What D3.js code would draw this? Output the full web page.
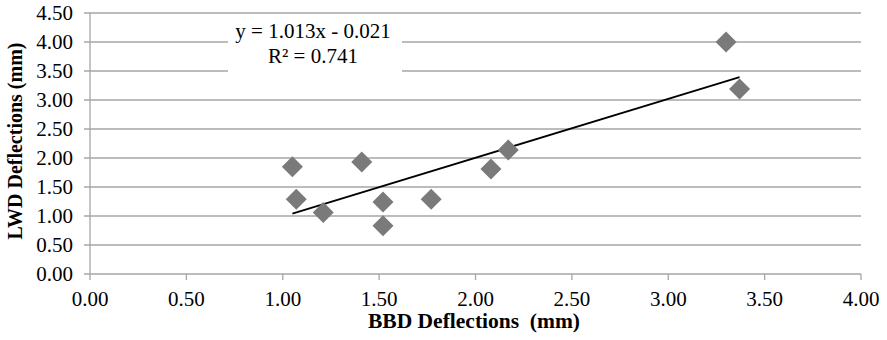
<!DOCTYPE html>
<html>
<head>
<meta charset="utf-8">
<script src="https://cdn.jsdelivr.net/npm/d3@7"></script>
<style>
  body { margin: 0; background: #fff; }
  svg text { font-family: "Liberation Serif", "Times New Roman", serif; fill: #000; }
</style>
</head>
<body>
<svg id="chart" width="887" height="340"></svg>
<script>
// values
const bbd = [1.05, 1.07, 1.21, 1.41, 1.52, 1.52, 1.77, 2.08, 2.17, 3.30, 3.37];
const lwd = [1.85, 1.29, 1.06, 1.93, 1.24, 0.83, 1.29, 1.81, 2.14, 4.00, 3.19];
const xTicks = [0, 0.5, 1, 1.5, 2, 2.5, 3, 3.5, 4];
const yTicks = [0, 0.5, 1, 1.5, 2, 2.5, 3, 3.5, 4, 4.5];
const slope = 1.013, intercept = -0.021;
const eqLines = ["y = 1.013x - 0.021", "R\u00b2 = 0.741"];

const svg = d3.select("#chart");
const x = d3.scaleLinear().domain([0, 4]).range([90, 861]);
const y = d3.scaleLinear().domain([0, 4.5]).range([274, 13]);
const grid = "#a6a6a6";

// horizontal gridlines
svg.append("g")
  .selectAll("line")
  .data(yTicks)
  .join("line")
  .attr("x1", x(0) - 6)
  .attr("x2", x(4))
  .attr("y1", (d) => y(d))
  .attr("y2", (d) => y(d))
  .attr("stroke", grid)
  .attr("stroke-width", 1.3);

// y axis line
svg.append("line")
  .attr("x1", x(0)).attr("x2", x(0))
  .attr("y1", y(4.5)).attr("y2", y(0) + 6)
  .attr("stroke", grid).attr("stroke-width", 1.3);

// x tick marks
svg.append("g")
  .selectAll("line")
  .data(xTicks.slice(1))
  .join("line")
  .attr("x1", (d) => x(d))
  .attr("x2", (d) => x(d))
  .attr("y1", y(0))
  .attr("y2", y(0) + 6)
  .attr("stroke", grid)
  .attr("stroke-width", 1.3);

// tick labels
svg.append("g")
  .selectAll("text")
  .data(yTicks)
  .join("text")
  .attr("x", 73)
  .attr("y", (d) => y(d))
  .attr("dy", "0.35em")
  .attr("text-anchor", "end")
  .attr("font-size", 21)
  .text((d) => d.toFixed(2));

svg.append("g")
  .selectAll("text")
  .data(xTicks)
  .join("text")
  .attr("x", (d) => x(d))
  .attr("y", 306)
  .attr("text-anchor", "middle")
  .attr("font-size", 21)
  .text((d) => d.toFixed(2));

// equation label with white box
const eqX = 313;
svg.append("rect")
  .attr("x", 228).attr("y", 16)
  .attr("width", 174).attr("height", 70)
  .attr("fill", "#fff");
svg.append("g")
  .selectAll("text")
  .data(eqLines)
  .join("text")
  .attr("x", eqX)
  .attr("y", (d, i) => 38 + i * 25)
  .attr("text-anchor", "middle")
  .attr("font-size", 21)
  .text((d) => d);

// trendline
const xMin = d3.min(bbd), xMax = d3.max(bbd);
svg.append("line")
  .attr("x1", x(xMin)).attr("y1", y(slope * xMin + intercept))
  .attr("x2", x(xMax)).attr("y2", y(slope * xMax + intercept))
  .attr("stroke", "#000").attr("stroke-width", 1.8);

// diamonds
const pts = bbd.map((v, i) => ({ x: v, y: lwd[i] }));
svg.append("g")
  .selectAll("path")
  .data(pts)
  .join("path")
  .attr("transform", (d) => `translate(${x(d.x)},${y(d.y)})`)
  .attr("d", "M0,-10.5L10.5,0L0,10.5L-10.5,0Z")
  .attr("fill", "#7a7a7a");

// axis titles
svg.append("text")
  .attr("x", 474)
  .attr("y", 328)
  .attr("text-anchor", "middle")
  .attr("font-size", 21.5)
  .attr("font-weight", "bold")
  .style("white-space", "pre")
  .text("BBD Deflections  (mm)");

svg.append("text")
  .attr("transform", "translate(22,141) rotate(-90)")
  .attr("text-anchor", "middle")
  .attr("font-size", 20)
  .attr("font-weight", "bold")
  .text("LWD Deflections (mm)");
</script>
</body>
</html>
